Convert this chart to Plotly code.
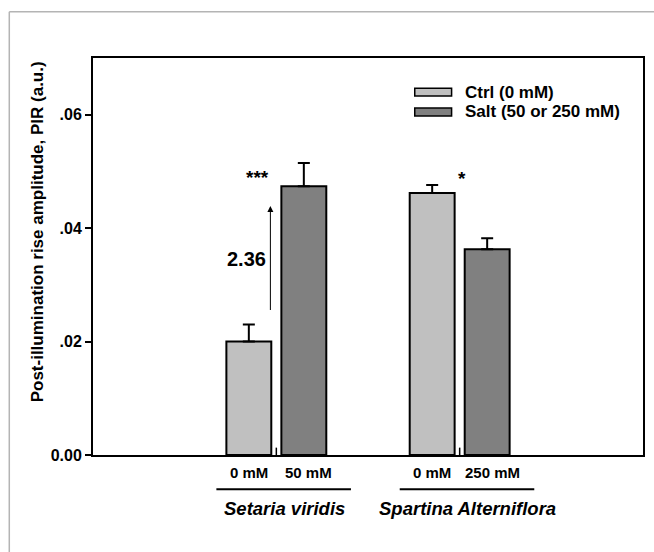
import plotly.graph_objects as go

# ---- data ----
species = ["Setaria viridis", "Spartina Alterniflora"]
group_pos = [1, 2]
series_names = ["Ctrl (0 mM)", "Salt (50 or 250 mM)"]
ctrl_vals = [0.0200, 0.0462]
ctrl_err = [0.0030, 0.0014]
salt_vals = [0.0474, 0.0363]
salt_err = [0.0041, 0.0019]
ctrl_labels = ["0 mM", "0 mM"]
salt_labels = ["50 mM", "250 mM"]
sig_marks = ["***", "*"]
fold_change = "2.36"
ytick_vals = [0, 0.02, 0.04, 0.06]
ytick_text = ["0.00", ".02", ".04", ".06"]

FONT = "Arial, Liberation Sans, sans-serif"
C_CTRL = "#c0c0c0"
C_SALT = "#808080"
W = 0.245
OFF = 0.15


def bfont(size):
    return dict(family=FONT, size=size, color="black", weight="bold")


fig = go.Figure()
for vals, errs, col, name, sgn in [(ctrl_vals, ctrl_err, C_CTRL, series_names[0], -1),
                                    (salt_vals, salt_err, C_SALT, series_names[1], 1)]:
    fig.add_trace(go.Bar(
        x=[g + sgn * OFF for g in group_pos], y=vals, width=W, name=name,
        marker=dict(color=col, line=dict(color="black", width=2)),
        error_y=dict(type="data", array=errs, arrayminus=[0] * len(errs), symmetric=False,
                     color="black", thickness=2, width=6),
        showlegend=False))

ann = []
shapes = []
# concentration labels
for i, g in enumerate(group_pos):
    ann.append(dict(x=g - OFF, y=-0.043, xref="x", yref="paper", text=ctrl_labels[i], showarrow=False,
                    xanchor="center", yanchor="middle", font=bfont(15)))
    ann.append(dict(x=g + OFF, y=-0.043, xref="x", yref="paper", text=salt_labels[i], showarrow=False,
                    xanchor="center", yanchor="middle", xshift=5, font=bfont(15)))
    ann.append(dict(x=g + 0.045, y=-0.134, xref="x", yref="paper", text="<i>" + species[i] + "</i>",
                    showarrow=False, xanchor="center", yanchor="middle", font=bfont(18.5)))
    shapes.append(dict(type="line", xref="x", yref="paper", x0=g + 0.04 - 0.367, x1=g + 0.04 + 0.367,
                       y0=-0.086, y1=-0.086, line=dict(color="black", width=2)))
    # small axis-break tick between bars
    shapes.append(dict(type="line", xref="x", yref="y", x0=g, x1=g, y0=0, y1=0.0013,
                       line=dict(color="black", width=1.5)))

# significance marks
ann.append(dict(x=group_pos[0] - 0.103, y=0.0490, xref="x", yref="y", text=sig_marks[0], showarrow=False,
                xanchor="center", yanchor="middle", font=bfont(19)))
ann.append(dict(x=group_pos[1] + 0.011, y=0.0488, xref="x", yref="y", text=sig_marks[1], showarrow=False,
                xanchor="center", yanchor="middle", font=bfont(19)))
# fold-change arrow
ax_x = group_pos[0] - OFF + W / 2 - 0.005
ann.append(dict(x=ax_x, y=0.0439, ax=ax_x, ay=ctrl_vals[0] + ctrl_err[0] + 0.0023, xref="x", yref="y",
                axref="x", ayref="y", text="", showarrow=True, arrowhead=2, arrowwidth=1,
                arrowsize=1.2, arrowcolor="black"))
ann.append(dict(x=group_pos[0] - 0.163, y=0.0345, xref="x", yref="y", text=fold_change, showarrow=False,
                xanchor="center", yanchor="middle", font=bfont(20)))

# y title
ann.append(dict(x=-0.101, y=0.562, xref="paper", yref="paper", text="Post-illumination rise amplitude, PIR (a.u.)",
                textangle=-90, showarrow=False, xanchor="center", yanchor="middle", font=bfont(17)))

# manual legend
for i, (name, col) in enumerate(zip(series_names, [C_CTRL, C_SALT])):
    yc = 0.914 - i * 0.05
    shapes.append(dict(type="rect", xref="paper", yref="paper", x0=0.585, x1=0.652, y0=yc - 0.01, y1=yc + 0.01,
                       fillcolor=col, line=dict(color="black", width=1.5)))
    ann.append(dict(x=0.672, y=yc, xref="paper", yref="paper", text=name, showarrow=False, xanchor="left",
                    yanchor="middle", font=bfont(17)))

# outer gray page frame (top and left)
shapes.append(dict(type="line", xref="paper", yref="paper", x0=-0.1522, x1=1.02, y0=1.1167, y1=1.1167,
                   line=dict(color="#b4b4b4", width=1.5)))
shapes.append(dict(type="line", xref="paper", yref="paper", x0=-0.1522, x1=-0.1522, y0=1.1167, y1=-0.25,
                   line=dict(color="#b4b4b4", width=1.5)))

fig.update_layout(
    width=654, height=552,
    margin=dict(l=93, r=9, t=58, b=97),
    paper_bgcolor="white", plot_bgcolor="white",
    barmode="overlay",
    annotations=ann, shapes=shapes,
    font=dict(family=FONT, color="black"),
    xaxis=dict(range=[0, 3], showticklabels=False, ticks="", showgrid=False, zeroline=False,
               showline=True, linecolor="black", linewidth=2, mirror=True),
    yaxis=dict(range=[0, 0.07], tickvals=ytick_vals, ticktext=ytick_text, ticks="outside", ticklen=6,
               tickwidth=2, tickcolor="black", showgrid=False, zeroline=False,
               showline=True, linecolor="black", linewidth=2, mirror=True,
               tickfont=bfont(16)),
)

fig.write_html("out.html")
